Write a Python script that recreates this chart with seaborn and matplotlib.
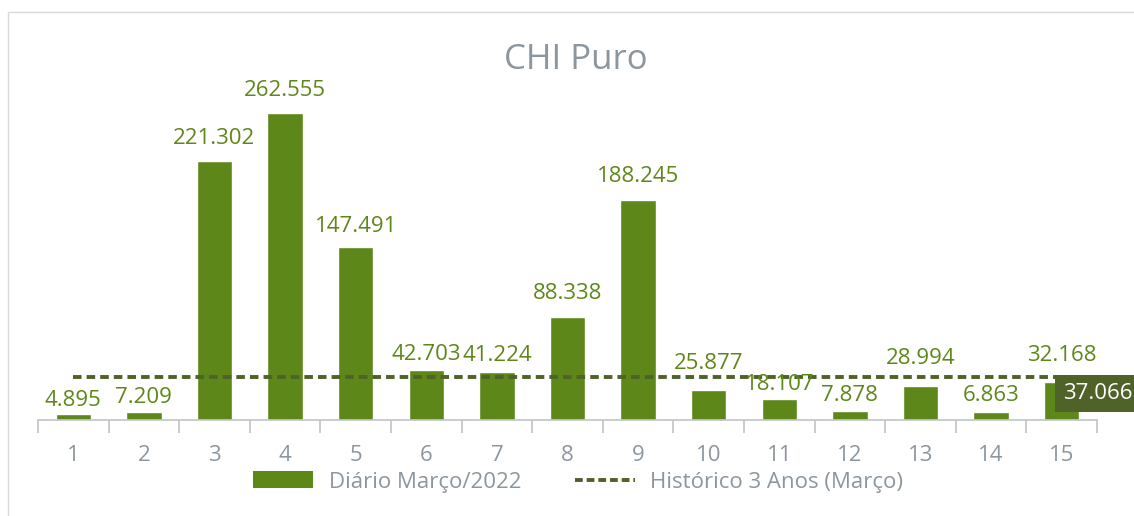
import numpy as np
import seaborn as sns
import pandas as pd
import matplotlib.pyplot as plt
from matplotlib.patches import Rectangle
from matplotlib.lines import Line2D
from matplotlib.patches import Patch

# data
dias = [str(d) for d in range(1, 16)]
diario = [4.895, 7.209, 221.302, 262.555, 147.491, 42.703, 41.224, 88.338,
          188.245, 25.877, 18.107, 7.878, 28.994, 6.863, 32.168]
historico = 37.066

# label distance above each bar (points) - labels were nudged by hand in the original
label_gap = [10, 10, 16, 16, 15, 11.5, 11.5, 16.5, 16.5, 19, 10, 11, 20, 11.5, 19.5]

bar_color = "#5E8719"
line_color = "#4F6228"
gray = "#8C969E"

sns.set_theme(style="white")
plt.rcParams['font.family'] = ['Open Sans', 'DejaVu Sans']

df = pd.DataFrame({"dia": dias, "valor": diario})

fig = plt.figure(figsize=(11.34, 5.16), dpi=100)
ax = fig.add_axes([38 / 1134, 96 / 516, (1097 - 38) / 1134, 351 / 516])

sns.barplot(data=df, x="dia", y="valor", color=bar_color, saturation=1,
            width=0.5, ax=ax)

# labels above bars
for i, (v, g) in enumerate(zip(diario, label_gap)):
    ax.annotate(f"{v:.3f}", (i, v), xytext=(0, g), textcoords="offset points",
                ha="center", va="center", fontsize=16, color=bar_color)

# 3 year history line
ax.plot([0, len(dias) - 1], [historico, historico], color=line_color,
        linestyle=(0, (2.2, 1.3)), linewidth=2.8)
ax.annotate(f"{historico:.3f}", (len(dias) - 1, historico), xytext=(1, -12),
            textcoords="offset points", ha="left", va="center", fontsize=16,
            color="white",
            bbox=dict(boxstyle="square,pad=0.35", fc=line_color, ec="none"),
            annotation_clip=False)

ax.set_ylim(0, 300)
ax.set_xlim(-0.5, len(dias) - 0.5)
ax.set_xlabel("")
ax.set_ylabel("")
ax.set_yticks([])
for s in ["top", "right", "left"]:
    ax.spines[s].set_visible(False)
ax.spines["bottom"].set_color("#BFC4C8")
ax.spines["bottom"].set_linewidth(1.2)

# category boundary ticks
ax.set_xticks(np.arange(-0.5, len(dias), 1.0), minor=True)
ax.tick_params(axis="x", which="minor", bottom=True, length=9, width=1.2,
               color="#BFC4C8")
ax.tick_params(axis="x", which="major", bottom=False, pad=12,
               labelsize=16, labelcolor=gray)

fig.suptitle("CHI Puro", x=0.508, y=1 - 60 / 516, va="center",
             fontsize=25, color=gray)

handles = [Patch(facecolor=bar_color, edgecolor="none"),
           Line2D([0], [0], color=line_color, linestyle=(0, (2, 1)), linewidth=2.8)]
fig.legend(handles, ["Diário Março/2022", "Histórico 3 Anos (Março)"],
           loc="center", bbox_to_anchor=(0.51, 1 - 482 / 516), ncol=2, frameon=False,
           fontsize=16, labelcolor=gray, handlelength=2.7, handleheight=0.8,
           handletextpad=0.7, columnspacing=2.4)

# outer chart frame
fig.patches.append(Rectangle((8 / 1134, -0.01), 1.2, 1 - 12 / 516 + 0.01,
                             transform=fig.transFigure, fill=False,
                             edgecolor="#D9D9D9", linewidth=1))

fig.savefig("out.png", dpi=100)
